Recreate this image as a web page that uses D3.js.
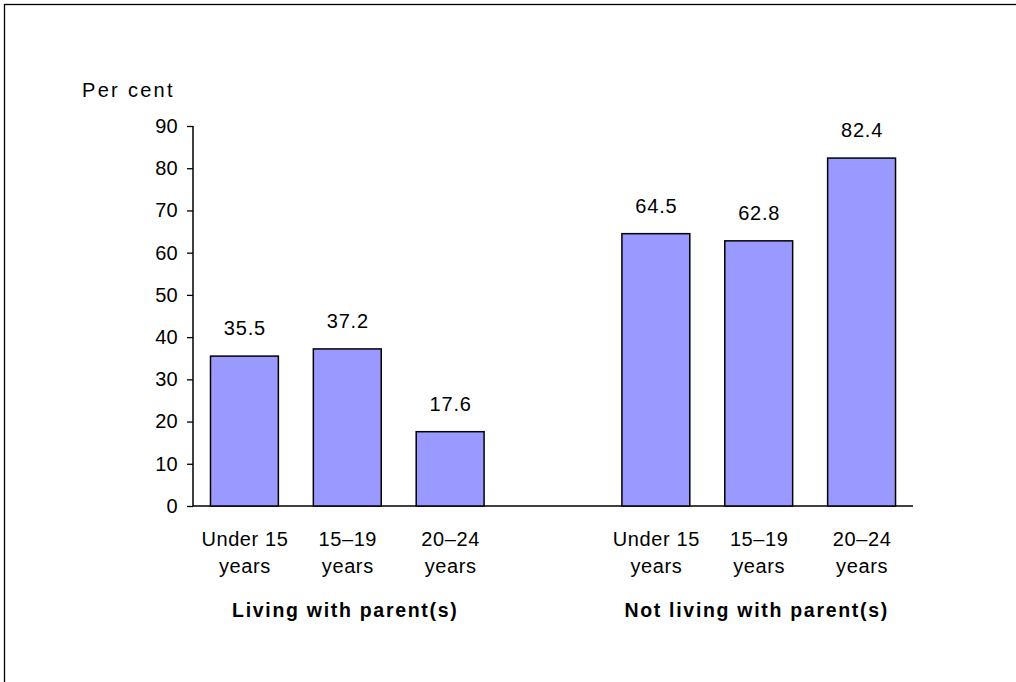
<!DOCTYPE html>
<html><head><meta charset="utf-8">
<script src="https://cdn.jsdelivr.net/npm/d3@7"></script>
<style>
body{margin:0;background:#fff;}
text{font-family:Arial,"Liberation Sans",sans-serif;fill:#000;}
</style></head>
<body>
<svg id="chart" width="1016" height="682"></svg>
<script>
const groups = ["Living with parent(s)", "Not living with parent(s)"];
const ageLine1 = ["Under 15", "15\u201319", "20\u201324"];
const ageLine2 = ["years", "years", "years"];
const livingWith = [35.5, 37.2, 17.6];
const notLivingWith = [64.5, 62.8, 82.4];
const yTicks = [0, 10, 20, 30, 40, 50, 60, 70, 80, 90];
const yTitle = "Per cent";

const slots = ["g0-0","g0-1","g0-2","gap","g1-0","g1-1","g1-2"];
const data = [];
[livingWith, notLivingWith].forEach((arr, gi) => arr.forEach((v, i) => data.push({key:`g${gi}-${i}`, value:v, l1:ageLine1[i], l2:ageLine2[i]})));

const svg = d3.select("#chart");
svg.append("rect").attr("x",4.5).attr("y",4.5).attr("width",1200).attr("height",1000)
  .attr("fill","none").attr("stroke","#000").attr("stroke-width",1.3);

const x0 = 193, x1 = 913, yB = 506, yT = 126;
const x = d3.scaleBand().domain(slots).range([x0, x1]).paddingInner(0.34).paddingOuter(0.17);
const y = d3.scaleLinear().domain([0, 90]).range([yB, yT]);

// y axis
const yAxis = d3.axisLeft(y).tickValues(yTicks).tickSize(6).tickPadding(9).tickFormat(d3.format("d"));
const ga = svg.append("g").attr("transform",`translate(${x0},0)`).call(yAxis);
ga.select(".domain").attr("d",`M0,${yT}V${yB}`).attr("stroke","#000").attr("stroke-width",1.5);
ga.selectAll(".tick line").attr("stroke","#000").attr("stroke-width",1.3);
ga.selectAll(".tick text").attr("font-size",20).style("font-family","Arial, 'Liberation Sans', sans-serif").attr("letter-spacing","0.3px").attr("fill","#000");

// x axis line
svg.append("line").attr("x1",x0).attr("x2",x1).attr("y1",yB).attr("y2",yB).attr("stroke","#000").attr("stroke-width",1.5);

// bars
svg.append("g").selectAll("rect").data(data).join("rect")
  .attr("x", d => x(d.key)).attr("width", x.bandwidth())
  .attr("y", d => y(d.value)).attr("height", d => yB - y(d.value))
  .attr("fill","#9999ff").attr("stroke","#000").attr("stroke-width",1.5);

// value labels
svg.append("g").selectAll("text").data(data).join("text")
  .attr("x", d => x(d.key) + x.bandwidth()/2 + 0.5).attr("y", d => y(d.value) - 21)
  .attr("text-anchor","middle").attr("font-size",20).attr("letter-spacing","0.8px")
  .text(d => d.value.toFixed(1));

// category labels
const cl = svg.append("g").selectAll("text").data(data).join("text")
  .attr("text-anchor","middle").attr("font-size",20).attr("letter-spacing","0.6px");
cl.append("tspan").attr("x", d => x(d.key) + x.bandwidth()/2 + 0.5).attr("y",546).text(d => d.l1);
cl.append("tspan").attr("x", d => x(d.key) + x.bandwidth()/2 + 0.5).attr("y",573).text(d => d.l2);

// group labels
svg.append("g").selectAll("text").data(groups).join("text")
  .attr("x", (d,i) => x(`g${i}-1`) + x.bandwidth()/2 - 2).attr("y",617)
  .attr("text-anchor","middle").attr("font-size",19.5).attr("font-weight","bold").attr("letter-spacing","1.7px")
  .text(d => d);

// y title
svg.append("text").attr("x",82).attr("y",97).attr("font-size",20).attr("letter-spacing","2.3px").text(yTitle);
</script>
</body></html>
